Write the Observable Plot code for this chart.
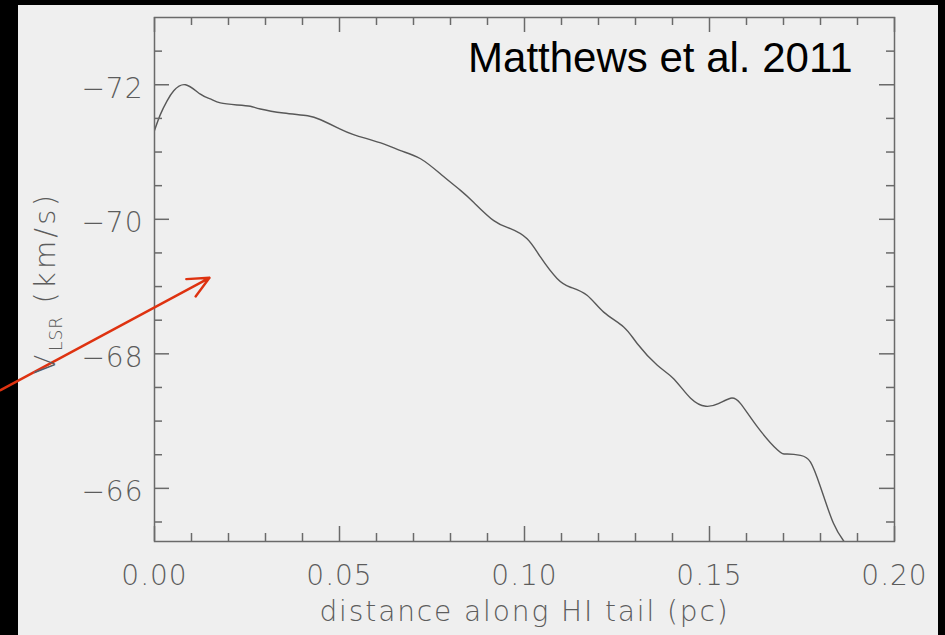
<!DOCTYPE html>
<html>
<head>
<meta charset="utf-8">
<script src="https://cdn.jsdelivr.net/npm/d3@7"></script>
<script src="https://cdn.jsdelivr.net/npm/@observablehq/plot@0.6"></script>
<style>
  html, body { margin: 0; padding: 0; background: #000; width: 945px; height: 635px; overflow: hidden; }
  #panel { position: absolute; left: 18px; top: 5px; width: 920px; height: 630px; background: #efefef; }
  #chart { position: absolute; left: 0; top: 0; }
  #chart svg { letter-spacing: 1px; }
  #chart g[font-family^="Liberation"] { letter-spacing: 0; }
</style>
</head>
<body>
<div id="panel"></div>
<div id="chart"></div>
<script>
// ---- data ----
const distance = [0, 0.0016, 0.0034, 0.0052, 0.0084, 0.0124, 0.0151, 0.0178, 0.0223, 0.0259, 0.0286, 0.0349, 0.0414, 0.0449, 0.0495, 0.0538, 0.0619, 0.0665, 0.0719, 0.0778, 0.0827, 0.0863, 0.0917, 0.0962, 0.1007, 0.1043, 0.1088, 0.1124, 0.1169, 0.1214, 0.1268, 0.1305, 0.1359, 0.1403, 0.1449, 0.149, 0.1524, 0.1557, 0.1584, 0.163, 0.1684, 0.171, 0.1746, 0.1773, 0.180, 0.1835, 0.1865];
const velocity = [-71.32, -71.56, -71.76, -71.91, -72.0, -71.86, -71.79, -71.73, -71.70, -71.68, -71.64, -71.58, -71.54, -71.48, -71.36, -71.26, -71.12, -71.02, -70.90, -70.65, -70.43, -70.25, -69.98, -69.86, -69.71, -69.44, -69.12, -68.99, -68.87, -68.62, -68.40, -68.15, -67.83, -67.63, -67.34, -67.22, -67.26, -67.34, -67.26, -66.91, -66.57, -66.51, -66.49, -66.39, -66.02, -65.48, -65.2];

const xMajorTicks = [0, 0.05, 0.10, 0.15, 0.20];
const xTickLabels = ["0.00", "0.05", "0.10", "0.15", "0.20"];
const xMinorTicks = [0.01, 0.02, 0.03, 0.04, 0.06, 0.07, 0.08, 0.09, 0.11, 0.12, 0.13, 0.14, 0.16, 0.17, 0.18, 0.19];
const yMajorTicks = [-72, -70, -68, -66];
const yTickLabels = ["\u221272", "\u221270", "\u221268", "\u221266"];
const yMinorTicks = [-72.5, -71.5, -71, -70.5, -69.5, -69, -68.5, -67.5, -67, -66.5, -65.5];

const xLabel = "distance along HI tail (pc)";
const yLabelMain = "V";
const yLabelSub = "LSR";
const yLabelUnit = " (km/s)";
const citation = "Matthews et al. 2011";

// annotation arrow (data coordinates)
const arrowFrom = [-0.0416, -67.46];
const arrowTo = [0.01486, -69.13];

// ---- build ----
const W = 945, H = 635;
const mL = 154, mR = 51, mT = 17, mB = 94;
const plotW = W - mL - mR, plotH = H - mT - mB;
const axisGray = "#6a6a6a";
const textGray = "#5c5c5c";
const tickFont = "DejaVu Sans";

const series = distance.map((d, i) => ({d, v: velocity[i]}));
const xTicksData = xMajorTicks.map((t, i) => ({t, label: xTickLabels[i]}));
const yTicksData = yMajorTicks.map((t, i) => ({t, label: yTickLabels[i]}));

const chart = Plot.plot({
  width: W, height: H,
  marginLeft: mL, marginRight: mR, marginTop: mT, marginBottom: mB,
  style: {background: "transparent", overflow: "visible"},
  x: {domain: [0, 0.2], axis: null},
  y: {domain: [-73, -65.21], reverse: true, axis: null},
  marks: [
    Plot.line(series, {x: "d", y: "v", stroke: "#585858", strokeWidth: 1.4, curve: "natural", clip: true}),
    // ticks (inward, mirrored)
    Plot.tickX(xMajorTicks, {x: d => d, insetTop: plotH - 15, stroke: axisGray, strokeWidth: 1.5}),
    Plot.tickX(xMajorTicks, {x: d => d, insetBottom: plotH - 15, stroke: axisGray, strokeWidth: 1.5}),
    Plot.tickX(xMinorTicks, {x: d => d, insetTop: plotH - 8, stroke: axisGray, strokeWidth: 1.5}),
    Plot.tickX(xMinorTicks, {x: d => d, insetBottom: plotH - 8, stroke: axisGray, strokeWidth: 1.5}),
    Plot.tickY(yMajorTicks, {y: d => d, insetRight: plotW - 15, stroke: axisGray, strokeWidth: 1.5}),
    Plot.tickY(yMajorTicks, {y: d => d, insetLeft: plotW - 15, stroke: axisGray, strokeWidth: 1.5}),
    Plot.tickY(yMinorTicks, {y: d => d, insetRight: plotW - 8, stroke: axisGray, strokeWidth: 1.5}),
    Plot.tickY(yMinorTicks, {y: d => d, insetLeft: plotW - 8, stroke: axisGray, strokeWidth: 1.5}),
    Plot.frame({stroke: axisGray, strokeWidth: 1.5}),
    // tick labels
    Plot.text(xTicksData, {x: "t", text: "label", frameAnchor: "bottom", lineAnchor: "middle", dy: 35, fontSize: 28, fontFamily: tickFont, fontWeight: 200, fill: textGray}),
    Plot.text(yTicksData, {y: "t", text: "label", frameAnchor: "left", lineAnchor: "middle", dx: -11, dy: 4, textAnchor: "end", fontSize: 28, fontFamily: tickFont, fontWeight: 200, fill: textGray}),
    // x axis label
    Plot.text([xLabel], {text: d => d, frameAnchor: "bottom", lineAnchor: "middle", dy: 71, fontSize: 28, fontFamily: tickFont, fontWeight: 200, fill: textGray, stroke: null}),
    // citation
    Plot.text([citation], {text: d => d, frameAnchor: "top-right", lineAnchor: "middle", dx: -42, dy: 41, textAnchor: "end", fontSize: 42, fontFamily: "Liberation Sans", fill: "#000"}),
    // red annotation arrow
    Plot.arrow([{x1: arrowFrom[0], y1: arrowFrom[1], x2: arrowTo[0], y2: arrowTo[1]}], {
      x1: "x1", y1: "y1", x2: "x2", y2: "y2",
      stroke: "#de3210", strokeWidth: 2.4, headLength: 14.5, headAngle: 50
    })
  ]
});

// x label spacing a touch wider
d3.select(chart).selectAll("text").filter(function() { return this.textContent === xLabel; }).style("letter-spacing", "1.9px");

// y-axis label with subscript
const svg = d3.select(chart);
const yl = svg.append("text")
  .attr("transform", `translate(55,${mT + plotH / 2 + 4}) rotate(-90)`)
  .attr("text-anchor", "middle")
  .attr("font-family", tickFont)
  .attr("font-weight", 200)
  .attr("font-size", 29)
  .attr("fill", textGray)
  .style("letter-spacing", "3.2px");
yl.append("tspan").text(yLabelMain);
yl.append("tspan").attr("dy", 7).attr("font-size", 17).style("letter-spacing", "1px").text(yLabelSub);
yl.append("tspan").attr("dy", -7).text(yLabelUnit);

document.getElementById("chart").appendChild(chart);
</script>
</body>
</html>
